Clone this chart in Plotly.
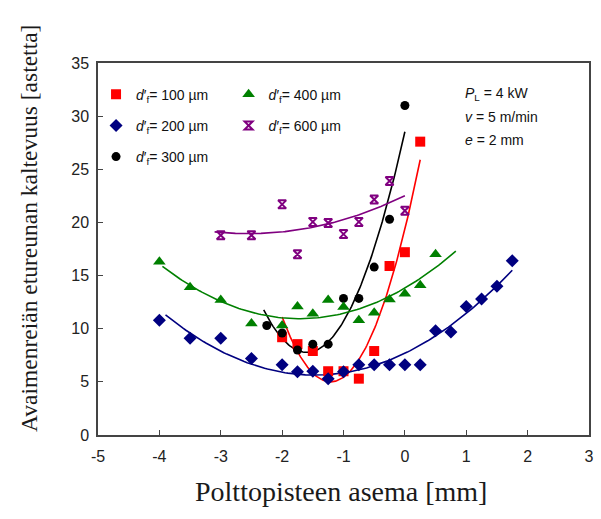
import numpy as np
import plotly.graph_objects as go

# Focal position [mm] and leading-edge slope of the keyhole [degrees]
x_100 = [-2.0, -1.75, -1.5, -1.25, -1.0, -0.75, -0.5, -0.25, 0.0, 0.25]
y_100 = [9.2, 8.55, 7.9, 6.0, 6.0, 5.3, 7.9, 15.9, 17.2, 27.6]

x_200 = [-4.0, -3.5, -3.0, -2.5, -2.0, -1.75, -1.5, -1.25, -1.0, -0.75,
         -0.5, -0.25, 0.0, 0.25, 0.5, 0.75, 1.0, 1.25, 1.5, 1.75]
y_200 = [10.8, 9.1, 9.1, 7.2, 6.6, 5.95, 6.0, 5.3, 5.95, 6.6,
         6.6, 6.6, 6.6, 6.6, 9.8, 9.7, 12.1, 12.8, 14.0, 16.4]

x_300 = [-2.25, -2.0, -1.75, -1.5, -1.25, -1.0, -0.75, -0.5, -0.25, 0.0]
y_300 = [10.3, 9.6, 8.0, 8.55, 8.55, 12.85, 12.85, 15.8, 20.3, 31.0]

x_400 = [-4.0, -3.5, -3.0, -2.5, -2.0, -1.75, -1.5, -1.25, -1.0, -0.75,
         -0.5, -0.25, 0.0, 0.25, 0.5]
y_400 = [16.3, 13.9, 12.7, 10.5, 10.3, 12.1, 11.4, 12.7, 12.05, 10.8,
         11.5, 12.75, 13.3, 14.1, 17.0]

x_600 = [-3.0, -2.5, -2.0, -1.75, -1.5, -1.25, -1.0, -0.75, -0.5, -0.25, 0.0]
y_600 = [18.8, 18.8, 21.7, 17.0, 20.05, 19.95, 18.9, 20.05, 22.15, 23.9, 21.1]

# x-extent of each second-order trendline
span_100 = [-2.0, 0.25]
span_200 = [-3.9, 1.75]
span_300 = [-2.3, 0.0]
span_400 = [-3.95, 0.83]
span_600 = [-3.1, 0.0]

x_ticks = [-5, -4, -3, -2, -1, 0, 1, 2, 3]
y_ticks = [0, 5, 10, 15, 20, 25, 30, 35]

series = [
    ("100", x_100, y_100, span_100, "#ff0000", "square", 10, "legend"),
    ("200", x_200, y_200, span_200, "#000080", "diamond", 10, "legend"),
    ("300", x_300, y_300, span_300, "#000000", "circle", 9, "legend"),
    ("400", x_400, y_400, span_400, "#008000", "triangle-up", 11, "legend2"),
    ("600", x_600, y_600, span_600, "#800080", "hourglass-open", 8, "legend2"),
]

fig = go.Figure()

for name, xs, ys, span, color, symbol, size, leg in series:
    coef = np.polyfit(xs, ys, 2)
    xf = np.linspace(span[0], span[1], 120)
    fig.add_trace(go.Scatter(
        x=xf, y=np.polyval(coef, xf), mode="lines",
        line=dict(color=color, width=1.6), showlegend=False, hoverinfo="skip"))

for name, xs, ys, span, color, symbol, size, leg in series:
    marker = dict(color=color, symbol=symbol, size=size)
    if symbol.endswith("open"):
        marker["line"] = dict(color=color, width=2)
    fig.add_trace(go.Scatter(
        x=xs, y=ys, mode="markers", marker=marker,
        name=f"<i>d</i>′<sub>f</sub>= {name} µm",
        legend=leg, legendgroup=name))

legend_style = dict(
    xanchor="left", yanchor="top", bgcolor="rgba(0,0,0,0)",
    font=dict(family="Liberation Sans, Arial", size=14, color="#111"),
    tracegroupgap=10, itemwidth=30,
)

fig.update_layout(
    width=601, height=519,
    margin=dict(l=98, r=7, t=63, b=84),
    paper_bgcolor="white", plot_bgcolor="white",
    legend=dict(x=-0.004, y=0.958, **legend_style),
    legend2=dict(x=0.266, y=0.958, **legend_style),
    font=dict(family="Liberation Sans, Arial", size=16, color="#222"),
)

axis_common = dict(
    showgrid=False, zeroline=False, showline=True, linecolor="#444",
    linewidth=1.5, mirror=True, ticks="inside", ticklen=5, tickwidth=1.2,
    tickcolor="#444", tickfont=dict(family="Liberation Sans, Arial", size=16, color="#222"),
)

fig.update_xaxes(
    range=[-5, 3], tickvals=x_ticks, ticktext=[str(v) for v in x_ticks],
    ticklabelstandoff=6, **axis_common)
fig.update_yaxes(
    range=[0, 35], tickvals=y_ticks, ticktext=[str(v) for v in y_ticks],
    ticklabelstandoff=4, **axis_common)

title_font = dict(family="Liberation Serif, Times New Roman", color="#1a1a1a")

# Axis titles
fig.add_annotation(
    text="Polttopisteen asema [mm]", xref="paper", yref="paper",
    x=0.494, y=-0.153, xanchor="center", yanchor="middle", showarrow=False,
    font=dict(title_font, size=28))
fig.add_annotation(
    text="Avaimenreiän etureunan kaltevuus [astetta]", xref="paper", yref="paper",
    x=-0.141, y=0.556, xanchor="center", yanchor="middle", showarrow=False,
    textangle=-90, font=dict(title_font, size=23.5))

# Process parameters
params = [
    "<i>P</i><sub>L</sub> = 4 kW",
    "<i>v</i> = 5 m/min",
    "<i>e</i> = 2 mm",
]
for i, txt in enumerate(params):
    fig.add_annotation(
        text=txt, xref="paper", yref="paper", x=0.744, y=0.918 - i * 0.062,
        xanchor="left", yanchor="middle", showarrow=False,
        font=dict(family="Liberation Sans, Arial", size=14, color="#111"))

fig.write_html("out.html")
